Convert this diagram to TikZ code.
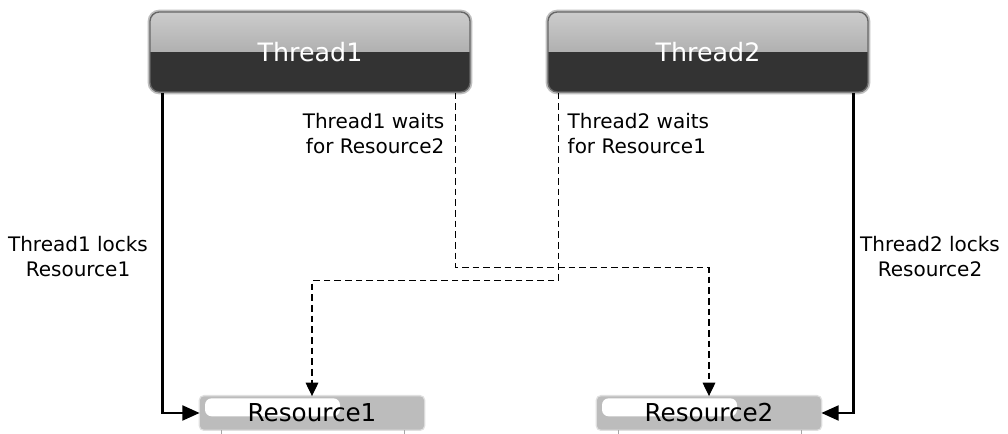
\documentclass[tikz,border=0pt]{standalone}
\usepackage{fontspec}
\setmainfont{DejaVu Sans}
\usetikzlibrary{arrows.meta,calc}
\definecolor{slab}{RGB}{51,51,51}
\definecolor{chip}{RGB}{188,188,188}
\tikzset{
  thread/.style={rounded corners=7pt,draw=black!60,line width=1pt,
    preaction={draw=black!25,line width=3.5pt},
    minimum width=240pt,minimum height=60pt,text=white,
    font=\fontsize{19}{22}\selectfont,
    path picture={
      \fill[sharp corners,top color=black!20,bottom color=black!42]
        (path picture bounding box.north west) rectangle (path picture bounding box.east);
      \fill[sharp corners,slab] (path picture bounding box.west) rectangle (path picture bounding box.south east);
    }},
  resource/.style={rounded corners=3pt,fill=chip,
    preaction={draw=black!12,line width=2pt},
    minimum width=168pt,minimum height=25pt,
    font=\fontsize{18.5}{22}\selectfont,
    path picture={
      \fill[white,rounded corners=5pt]
        ($(path picture bounding box.north west)+(5,-2)$) rectangle ++(135,-18);
    }},
  lock/.style={-{Triangle[length=13pt,width=11pt]},line width=2.2pt},
  wait/.style={-{Triangle[length=10pt,width=9.5pt]},dash pattern=on 5pt off 3pt,line width=0.8pt},
  note/.style={font=\fontsize{15}{18.75}\selectfont},
}
\begin{document}
\begin{tikzpicture}[x=0.75pt,y=0.75pt]
  \useasboundingbox (0,0) rectangle (1008,434);
  % threads on top, resources below
  \node[thread] (thread1) at (310,382) {Thread1};
  \node[thread] (thread2) at (708,382) {Thread2};
  \node[resource] (res1) at (312,21) {Resource1};
  \node[resource] (res2) at (709,21) {Resource2};
  \foreach \r in {res1,res2} {
    \draw[black!35] ($(\r.south west)+(22,0)$) -- ++(0,-5);
    \draw[black!35] ($(\r.south east)+(-20,0)$) -- ++(0,-5);
  }
  % locks held
  \draw[lock] ($(thread1.south west)+(13,0)$) |- (res1.west);
  \draw[lock] ($(thread2.south east)+(-15,0)$) |- (res2.east);
  % waits
  \draw[wait] ($(thread1.south east)+(-15,0)$) -- ++(0,-175) -| (res2.north);
  \draw[wait] ($(thread2.south west)+(11,0)$) -- ++(0,-188) -| (res1.north);
  % labels
  \node[note,align=center] (l1) at (78,177) {Thread1 locks\\Resource1};
  \node[note,align=center] (l2) at (930,177) {Thread2 locks\\Resource2};
  \node[note,align=right,anchor=east] (w1) at (449,300) {Thread1 waits\\for Resource2};
  \node[note,align=left,anchor=west] (w2) at (563,300) {Thread2 waits\\for Resource1};
\end{tikzpicture}
\end{document}
